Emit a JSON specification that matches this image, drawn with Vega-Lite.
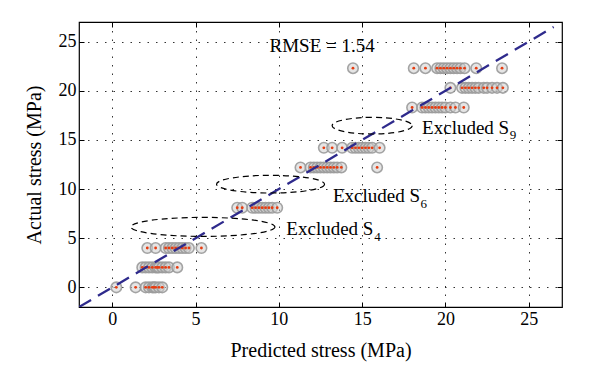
{
  "$schema": "https://vega.github.io/schema/vega-lite/v6.json",
  "width": 483,
  "height": 285,
  "autosize": "none",
  "padding": {"left": 79, "top": 22, "right": 38, "bottom": 79},
  "background": "white",
  "config": {
    "view": {"stroke": "#000", "strokeWidth": 1.2},
    "font": "Liberation Serif",
    "axis": {
      "labelFont": "Liberation Serif", "titleFont": "Liberation Serif",
      "labelFontSize": 18, "titleFontSize": 20, "labelColor": "#000", "titleColor": "#000",
      "titleFontWeight": "normal", "domain": false, "tickColor": "#000", "tickSize": -5,
      "gridColor": "#000", "gridDash": [1.5, 7], "gridOpacity": 0.8, "gridWidth": 1
    }
  },
  "datasets": {
    "pts": [
      {"pred": 0.24, "actual": 0}, {"pred": 1.4, "actual": 0}, {"pred": 2.0, "actual": 0}, {"pred": 2.2, "actual": 0}, {"pred": 2.4, "actual": 0}, {"pred": 2.5, "actual": 0}, {"pred": 2.6, "actual": 0}, {"pred": 2.8, "actual": 0}, {"pred": 3.0, "actual": 0},
      {"pred": 1.8, "actual": 2.03}, {"pred": 2.0, "actual": 2.03}, {"pred": 2.2, "actual": 2.03}, {"pred": 2.4, "actual": 2.03}, {"pred": 2.6, "actual": 2.03}, {"pred": 2.7, "actual": 2.03}, {"pred": 2.8, "actual": 2.03}, {"pred": 3.0, "actual": 2.03}, {"pred": 3.2, "actual": 2.03}, {"pred": 3.4, "actual": 2.03}, {"pred": 3.9, "actual": 2.03},
      {"pred": 2.1, "actual": 4.0}, {"pred": 2.6, "actual": 4.0}, {"pred": 3.2, "actual": 4.0}, {"pred": 3.4, "actual": 4.0}, {"pred": 3.6, "actual": 4.0}, {"pred": 3.8, "actual": 4.0}, {"pred": 4.0, "actual": 4.0}, {"pred": 4.2, "actual": 4.0}, {"pred": 4.4, "actual": 4.0}, {"pred": 4.6, "actual": 4.0}, {"pred": 5.35, "actual": 4.0},
      {"pred": 7.5, "actual": 8.1}, {"pred": 7.8, "actual": 8.1}, {"pred": 8.4, "actual": 8.1}, {"pred": 8.6, "actual": 8.1}, {"pred": 8.8, "actual": 8.1}, {"pred": 9.0, "actual": 8.1}, {"pred": 9.2, "actual": 8.1}, {"pred": 9.4, "actual": 8.1}, {"pred": 9.6, "actual": 8.1}, {"pred": 9.9, "actual": 8.1},
      {"pred": 11.3, "actual": 12.2}, {"pred": 11.9, "actual": 12.2}, {"pred": 12.1, "actual": 12.2}, {"pred": 12.3, "actual": 12.2}, {"pred": 12.5, "actual": 12.2}, {"pred": 12.7, "actual": 12.2}, {"pred": 12.9, "actual": 12.2}, {"pred": 13.1, "actual": 12.2}, {"pred": 13.3, "actual": 12.2}, {"pred": 13.5, "actual": 12.2}, {"pred": 13.75, "actual": 12.2}, {"pred": 15.9, "actual": 12.2},
      {"pred": 12.7, "actual": 14.2}, {"pred": 13.2, "actual": 14.2}, {"pred": 13.8, "actual": 14.2}, {"pred": 14.4, "actual": 14.2}, {"pred": 14.6, "actual": 14.2}, {"pred": 14.8, "actual": 14.2}, {"pred": 15.0, "actual": 14.2}, {"pred": 15.2, "actual": 14.2}, {"pred": 15.4, "actual": 14.2}, {"pred": 15.6, "actual": 14.2}, {"pred": 16.05, "actual": 14.2},
      {"pred": 18.0, "actual": 18.3}, {"pred": 18.6, "actual": 18.3}, {"pred": 18.8, "actual": 18.3}, {"pred": 19.0, "actual": 18.3}, {"pred": 19.2, "actual": 18.3}, {"pred": 19.4, "actual": 18.3}, {"pred": 19.6, "actual": 18.3}, {"pred": 19.8, "actual": 18.3}, {"pred": 20.0, "actual": 18.3}, {"pred": 20.3, "actual": 18.3}, {"pred": 20.6, "actual": 18.3}, {"pred": 21.1, "actual": 18.3},
      {"pred": 20.3, "actual": 20.3}, {"pred": 21.0, "actual": 20.3}, {"pred": 21.2, "actual": 20.3}, {"pred": 21.4, "actual": 20.3}, {"pred": 21.6, "actual": 20.3}, {"pred": 21.8, "actual": 20.3}, {"pred": 22.0, "actual": 20.3}, {"pred": 22.3, "actual": 20.3}, {"pred": 22.5, "actual": 20.3}, {"pred": 22.8, "actual": 20.3}, {"pred": 23.1, "actual": 20.3}, {"pred": 23.45, "actual": 20.3},
      {"pred": 14.45, "actual": 22.3}, {"pred": 18.1, "actual": 22.3}, {"pred": 18.8, "actual": 22.3}, {"pred": 19.5, "actual": 22.3}, {"pred": 19.7, "actual": 22.3}, {"pred": 19.9, "actual": 22.3}, {"pred": 20.1, "actual": 22.3}, {"pred": 20.3, "actual": 22.3}, {"pred": 20.5, "actual": 22.3}, {"pred": 20.7, "actual": 22.3}, {"pred": 20.9, "actual": 22.3}, {"pred": 21.15, "actual": 22.3}, {"pred": 21.85, "actual": 22.3}, {"pred": 23.4, "actual": 22.3}
    ],
    "diag": [{"pred": -2, "actual": -2}, {"pred": 26.5, "actual": 26.5}],
    "ellipses": [
      {"name": "S4", "pred": 5.44, "actual": 6.15},
      {"name": "S6", "pred": 9.5, "actual": 10.5},
      {"name": "S9", "pred": 15.6, "actual": 16.45}
    ],
    "labels": [
      {"pred": 10.45, "actual": 5.3, "text": "Excluded S", "sub": false},
      {"pred": 15.72, "actual": 4.73, "text": "4", "sub": true},
      {"pred": 13.25, "actual": 8.68, "text": "Excluded S", "sub": false},
      {"pred": 18.5, "actual": 8.1, "text": "6", "sub": true},
      {"pred": 18.6, "actual": 15.6, "text": "Excluded S", "sub": false},
      {"pred": 23.87, "actual": 15.1, "text": "9", "sub": true}
    ],
    "rmse": [{"pred": 12.6, "actual": 23.9, "text": "RMSE = 1.54"}]
  },
  "layer": [
    {
      "data": {"name": "pts"},
      "mark": {"type": "point", "shape": "circle", "filled": true, "size": 110, "fill": "#cfcfcf", "fillOpacity": 0.55, "stroke": "#9a9a9a", "strokeWidth": 1.6, "strokeOpacity": 0.9},
      "encoding": {
        "x": {"field": "pred", "type": "quantitative", "scale": {"domain": [-2, 27], "nice": false, "zero": false},
              "axis": {"values": [0, 5, 10, 15, 20, 25], "title": "Predicted stress (MPa)", "grid": true, "labelPadding": 8, "titlePadding": 12}},
        "y": {"field": "actual", "type": "quantitative", "scale": {"domain": [-2, 27], "nice": false, "zero": false},
              "axis": {"values": [0, 5, 10, 15, 20, 25], "title": "Actual stress (MPa)", "grid": true, "labelPadding": 8, "titlePadding": 14}}
      }
    },
    {
      "data": {"name": "pts"},
      "mark": {"type": "point", "shape": "circle", "filled": true, "size": 8, "fill": "#e63c10", "opacity": 1},
      "encoding": {
        "x": {"field": "pred", "type": "quantitative", "axis": null},
        "y": {"field": "actual", "type": "quantitative", "axis": null}
      }
    },
    {
      "data": {"name": "diag"},
      "mark": {"type": "line", "stroke": "#2e2a8c", "strokeWidth": 2.3, "strokeDash": [14, 8], "clip": true},
      "encoding": {
        "x": {"field": "pred", "type": "quantitative", "axis": null},
        "y": {"field": "actual", "type": "quantitative", "axis": null}
      }
    },
    {
      "data": {"name": "ellipses"},
      "transform": [{"filter": "datum.name === 'S4'"}],
      "mark": {"type": "point", "filled": false, "size": 20736, "stroke": "#000", "strokeWidth": 1.2, "strokeDash": [6, 4], "opacity": 1,
               "shape": "M1,0C1,0.0729,0.5523,0.132,0,0.132C-0.5523,0.132,-1,0.0729,-1,0C-1,-0.0729,-0.5523,-0.132,0,-0.132C0.5523,-0.132,1,-0.0729,1,0Z"},
      "encoding": {
        "x": {"field": "pred", "type": "quantitative", "axis": null},
        "y": {"field": "actual", "type": "quantitative", "axis": null}
      }
    },
    {
      "data": {"name": "ellipses"},
      "transform": [{"filter": "datum.name === 'S6'"}],
      "mark": {"type": "point", "filled": false, "size": 11664, "stroke": "#000", "strokeWidth": 1.2, "strokeDash": [6, 4], "opacity": 1,
               "shape": "M1,0C1,0.0906,0.5523,0.164,0,0.164C-0.5523,0.164,-1,0.0906,-1,0C-1,-0.0906,-0.5523,-0.164,0,-0.164C0.5523,-0.164,1,-0.0906,1,0Z"},
      "encoding": {
        "x": {"field": "pred", "type": "quantitative", "axis": null},
        "y": {"field": "actual", "type": "quantitative", "axis": null}
      }
    },
    {
      "data": {"name": "ellipses"},
      "transform": [{"filter": "datum.name === 'S9'"}],
      "mark": {"type": "point", "filled": false, "size": 6400, "stroke": "#000", "strokeWidth": 1.2, "strokeDash": [6, 4], "opacity": 1,
               "shape": "M1,0C1,0.1149,0.5523,0.208,0,0.208C-0.5523,0.208,-1,0.1149,-1,0C-1,-0.1149,-0.5523,-0.208,0,-0.208C0.5523,-0.208,1,-0.1149,1,0Z"},
      "encoding": {
        "x": {"field": "pred", "type": "quantitative", "axis": null},
        "y": {"field": "actual", "type": "quantitative", "axis": null}
      }
    },
    {
      "data": {"name": "labels"},
      "transform": [{"filter": "!datum.sub"}],
      "mark": {"type": "text", "align": "left", "baseline": "alphabetic", "font": "Liberation Serif", "fontSize": 19, "color": "#000"},
      "encoding": {
        "x": {"field": "pred", "type": "quantitative", "axis": null},
        "y": {"field": "actual", "type": "quantitative", "axis": null},
        "text": {"field": "text"}
      }
    },
    {
      "data": {"name": "labels"},
      "transform": [{"filter": "datum.sub"}],
      "mark": {"type": "text", "align": "left", "baseline": "alphabetic", "font": "Liberation Serif", "fontSize": 13, "color": "#000"},
      "encoding": {
        "x": {"field": "pred", "type": "quantitative", "axis": null},
        "y": {"field": "actual", "type": "quantitative", "axis": null},
        "text": {"field": "text"}
      }
    },
    {
      "data": {"name": "rmse"},
      "mark": {"type": "text", "align": "center", "baseline": "alphabetic", "font": "Liberation Serif", "fontSize": 19, "color": "#000"},
      "encoding": {
        "x": {"field": "pred", "type": "quantitative", "axis": null},
        "y": {"field": "actual", "type": "quantitative", "axis": null},
        "text": {"field": "text"}
      }
    },
    {
      "data": {"name": "diag"},
      "mark": {"type": "point", "opacity": 0},
      "encoding": {
        "x": {"field": "pred", "type": "quantitative",
              "axis": {"orient": "top", "values": [0, 5, 10, 15, 20, 25], "labels": false, "title": null, "grid": false}},
        "y": {"field": "actual", "type": "quantitative",
              "axis": {"orient": "right", "values": [0, 5, 10, 15, 20, 25], "labels": false, "title": null, "grid": false}}
      }
    }
  ],
  "resolve": {"axis": {"x": "independent", "y": "independent"}}
}
